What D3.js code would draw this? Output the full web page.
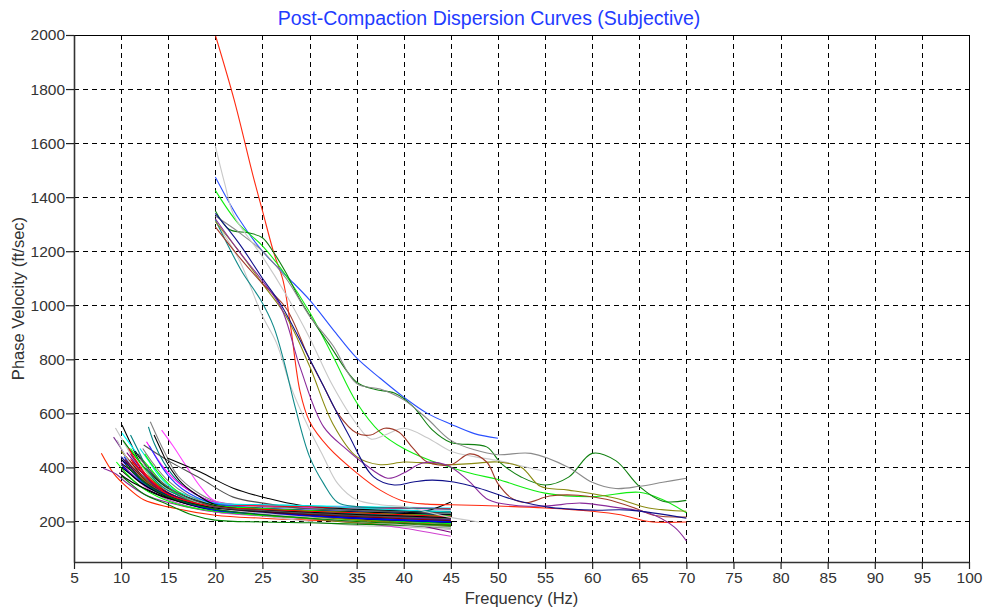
<!DOCTYPE html>
<html><head><meta charset="utf-8">
<script src="https://cdn.jsdelivr.net/npm/d3@7"></script>
<style>body{margin:0;background:#fff;} svg{display:block;}</style>
</head><body><svg id="c" width="987" height="612"></svg>
<script>
const xTicks = [5,10,15,20,25,30,35,40,45,50,55,60,65,70,75,80,85,90,95,100];
const yTicks = [200,400,600,800,1000,1200,1400,1600,1800,2000];

const lowColors = ["#ff2a00","#8a2a9a","#7a3090","#000000","#c0c0c0","#00ffff","#008000","#0000ff",
 "#008080","#808080","#ff00ff","#ff40ff","#505050","#000000","#000000","#808000","#800000","#000080",
 "#00ff00","#ff0000","#808080","#c0c0c0","#008080","#800080","#d040d0","#000000","#0030ff","#808000",
 "#00ff00","#00e0e0","#008000","#ff0000","#000000","#800000","#000080","#2040ff","#c0c0c0","#00ff00",
 "#000000","#000000","#808080","#800000","#808000","#800080","#000080","#00ff00","#008080","#000000",
 "#0000ff","#c0c0c0","#ff0000","#000000","#505050","#008000"];
const lowCurves = [
 [[7.9,452],[9.2,378],[10.6,328],[12.4,280],[15,254],[20,223],[25,212],[30,205],[35,200],[40,195],[45,185]],
 [[8.1,397],[9.5,375],[10.5,345],[12.5,300],[15,270],[20,235],[25,225],[30,218],[35,210],[40,205],[45,200]],
 [[9.2,512],[10,470],[11,410],[12.5,340],[15,290],[20,240],[25,230],[30,222],[35,215],[40,210],[45,205]],
 [[10.1,557],[11,490],[12,420],[13.5,350],[15,305],[17.5,270],[20,252],[25,240],[30,235],[35,232],[40,228],[45,222]],
 [[9.4,546],[10.5,480],[12,390],[14,320],[16,290],[20,248],[25,236],[30,228],[35,222],[40,218],[45,212]],
 [[10.1,527],[11.5,460],[13,390],[15,320],[17.5,285],[20,265],[25,262],[30,258],[35,255],[40,252],[45,250]],
 [[10.2,500],[11.5,440],[13,380],[15,320],[17,280],[20,245],[25,235],[30,228],[35,220],[40,212],[45,205]],
 [[10.1,427],[11,390],[12.5,340],[15,290],[20,245],[25,232],[30,225],[35,218],[40,212],[45,208]],
 [[12.9,550],[13.5,490],[14.5,420],[15.5,370],[17,320],[20,270],[25,258],[30,250],[35,245],[40,240],[45,238]],
 [[13.1,569],[14,500],[15,430],[16,370],[18,310],[20,275],[25,255],[30,248],[35,240],[40,235],[45,230]],
 [[12.7,495],[13.5,450],[14.5,400],[16,345],[18,300],[20,270],[25,258],[30,253],[35,250],[40,248],[45,245]],
 [[14.3,538],[15.5,480],[17,400],[18.5,325],[20,275],[25,260],[30,255],[35,252],[40,250],[45,248]],
 [[12.4,483],[14.9,427],[18.4,360],[21.9,290],[25.1,268],[29,249],[35,240],[40,236],[45,232]],
 [[14.9,435],[18.4,383],[21.9,323],[25.5,286],[29,260],[35,245],[40,240],[45,235]],
 [[10,430],[11,400],[12.5,350],[15,300],[20,255],[25,240],[30,232],[35,228],[40,232],[42.5,240],[45,272]],
 [[10,460],[11,420],[12.5,360],[15,300],[20,250],[25,225],[30,215],[35,205],[40,195],[45,185]],
 [[10.5,440],[11.5,400],[13,340],[15,295],[20,245],[25,230],[30,220],[35,212],[40,205],[45,198]],
 [[10,410],[11,380],[12.5,335],[15,290],[20,240],[25,222],[30,215],[35,210],[40,200],[45,195]],
 [[11,470],[12,420],[13,370],[15,305],[17.5,270],[20,250],[25,238],[30,230],[35,224],[40,218],[45,212]],
 [[10.5,420],[11.5,380],[13,335],[15,290],[20,262],[25,258],[30,255],[35,250],[40,250],[45,247]],
 [[11,400],[12,370],[13.5,330],[15,300],[20,250],[25,225],[30,210],[35,195],[40,185],[45,175]],
 [[11.5,430],[12.5,390],[14,340],[16,300],[20,245],[25,220],[30,200],[35,185],[40,180],[45,170]],
 [[10.5,390],[12,350],[13.5,320],[15,295],[20,250],[25,235],[30,225],[35,215],[40,210],[45,200]],
 [[11,450],[12,400],[13,355],[15,305],[20,255],[25,240],[30,228],[35,215],[40,195],[45,160]],
 [[10,420],[11,380],[12.5,330],[15,280],[20,235],[25,220],[30,210],[35,195],[40,175],[45,145]],
 [[10,390],[11,360],[12.5,320],[15,285],[20,245],[25,230],[30,222],[35,214],[40,205],[45,196]],
 [[10.3,440],[11,410],[12.5,360],[15,300],[20,250],[25,235],[30,225],[35,215],[40,205],[45,190]],
 [[11.5,390],[12.5,360],[14,320],[16,290],[20,248],[25,225],[30,210],[35,195],[40,188],[45,182]],
 [[9.5,420],[10.5,380],[12,330],[14,290],[17,255],[20,238],[25,222],[30,212],[35,205],[40,200],[45,192]],
 [[12,470],[13,420],[14,370],[15.5,320],[18,285],[20,268],[25,262],[30,258],[35,250],[40,242],[45,235]],
 [[10,370],[11,340],[12.5,300],[15,262],[17.5,225],[20,205],[25,198],[30,195],[35,190],[40,186],[45,180]],
 [[10.8,470],[11.5,430],[12.5,380],[14,330],[16,290],[20,250],[25,232],[30,225],[35,220],[40,210],[45,200]],
 [[9.8,380],[10.5,360],[12,330],[14,300],[17,265],[20,245],[25,235],[30,228],[35,225],[40,220],[45,215]],
 [[11.2,420],[12.5,370],[14,320],[16,285],[20,252],[25,240],[30,232],[35,228],[40,222],[45,218]],
 [[11.5,410],[12.5,370],[14,325],[16,290],[20,245],[25,228],[30,218],[35,210],[40,203],[45,196]],
 [[13,480],[14,420],[15,370],[16.5,320],[18,290],[20,265],[25,250],[30,242],[35,236],[40,230],[45,225]],
 [[9.6,500],[10.5,440],[12,370],[14,315],[17,275],[20,250],[25,240],[30,232],[35,226],[40,220],[45,214]],
 [[12,440],[13,400],[14.5,340],[16,300],[20,255],[25,238],[30,228],[35,218],[40,208],[45,200]],
 [[10,415],[11,390],[12.5,345],[15,295],[20,248],[25,236],[30,228],[35,222],[40,218],[45,210]],
 [[13.5,520],[14.3,460],[15,410],[16.5,340],[18,300],[20,262],[25,248],[30,240],[35,235],[40,230],[45,226]],
 [[12.3,470],[13.5,410],[15,350],[17,300],[20,258],[25,245],[30,236],[35,230],[40,225],[45,220]],
 [[10.4,430],[11.5,390],[13,340],[15,300],[20,250],[25,236],[30,226],[35,218],[40,210],[45,203]],
 [[11,400],[12,365],[13.5,325],[15,298],[20,248],[25,230],[30,218],[35,206],[40,195],[45,188]],
 [[10.6,455],[11.5,415],[13,350],[15,300],[20,252],[25,238],[30,230],[35,222],[40,215],[45,208]],
 [[10,440],[11,400],[12.5,345],[15,296],[20,246],[25,232],[30,222],[35,214],[40,206],[45,200]],
 [[12.5,450],[13.5,400],[15,340],[17,290],[20,260],[25,248],[30,240],[35,232],[40,226],[45,220]],
 [[11,520],[12,450],[13,380],[14.5,325],[17,285],[20,255],[25,242],[30,235],[35,228],[40,222],[45,216]],
 [[11.5,460],[12.5,410],[14,350],[16,305],[20,258],[25,242],[30,234],[35,226],[40,220],[45,214]],
 [[10.2,400],[11,375],[12.5,335],[15,292],[20,242],[25,228],[30,220],[35,212],[40,205],[45,198]],
 [[12,430],[13,390],[14.5,340],[16.5,295],[20,250],[25,230],[30,215],[35,200],[40,188],[45,178]],
 [[11,430],[12,390],[13.5,340],[15,300],[20,255],[25,245],[30,238],[35,232],[40,225],[45,218]],
 [[10,400],[10.8,380],[12,345],[14,305],[17,270],[20,250],[25,238],[30,230],[35,224],[40,218],[45,212]],
 [[11.8,450],[12.8,400],[14,355],[16,305],[20,255],[25,240],[30,230],[35,222],[40,216],[45,210]],
 [[10.5,410],[11.5,375],[13,330],[15,292],[20,245],[25,225],[30,212],[35,200],[40,192],[45,186]]
];

const highColors = ["#ff2a10","#2a50ff","#10ee10","#108010","#8a8a8a","#c8c8c8","#c8c8c8","#108a8a",
 "#8a8a10","#a03a2a","#8a2a9a","#10108a"];
const highCurves = [
 [[20,2000],[22,1760],[24,1480],[25,1350],[26.2,1195],[27.2,1090],[28,920],[29,680],[30,570],[32,475],[35,380],[37.5,316],[40,275],[42.5,264],[45,262],[50,257],[55,250],[60,238],[63,225],[66,200],[70,198]],
 [[20,1475],[22.5,1320],[25,1200],[27.5,1110],[30,1020],[32.5,910],[35,805],[37.5,730],[40,660],[42.5,600],[45,560],[47.5,525],[50,508]],
 [[20,1425],[22.5,1300],[25,1220],[27.5,1110],[30,975],[32.5,810],[35,640],[37.5,530],[40,470],[42.5,430],[45,400],[47.5,375],[50,355],[55,305],[60,292],[65,308],[67.5,280],[70,232]],
 [[20,1350],[21.5,1280],[23.5,1268],[25,1250],[26.2,1195],[27.5,1120],[29,1020],[30.8,920],[32,860],[35,715],[37,688],[39,675],[41,625],[43,540],[45,492],[48.8,476],[50.3,416],[52.5,364],[55,335],[57.5,364],[60,452],[62.5,425],[65,330],[67.5,275],[70,278]],
 [[20,1330],[22.5,1270],[25,1200],[27.5,1100],[30,960],[32.5,850],[35,710],[37.5,690],[40,650],[42.5,580],[45,500],[47.5,465],[50,447],[53.5,452],[57.5,400],[60,345],[62.5,322],[65,330],[67.5,345],[70,360]],
 [[20,1590],[21,1450],[22,1330],[25,1180],[27.5,1040],[30,880],[32.5,700],[35,560],[36.5,505],[38,520],[40,545],[42.5,510],[45,460],[47.5,440],[50,425],[52.5,405],[55,385]],
 [[20,1310],[22.5,1170],[25,960],[26.5,860],[28,700],[30,540],[31.5,438],[33,340],[35,280],[37.5,262],[40,255],[42.5,235],[45,215],[48,198]],
 [[20,1316],[21.2,1231],[22.9,1120],[24.8,1020],[26.2,920],[27.3,790],[28.5,620],[30,440],[31.5,340],[33,270],[35,255],[40,250],[45,245]],
 [[20,1310],[22.5,1200],[25,1080],[27.5,960],[30,775],[32.5,560],[35,440],[37.5,410],[40,420],[42.5,416],[45,410],[47.5,415],[50,420],[52.5,400],[54.5,330],[57.5,316],[62.5,286],[66,250],[70,238]],
 [[20,1290],[22.5,1180],[25,1080],[27.5,990],[30,800],[31.5,700],[33,600],[35,527],[36.5,520],[38,545],[39.5,530],[41,470],[42.5,420],[45,410],[47,450],[48.8,420],[50,340],[51.5,285],[53,270],[55.5,294],[58.5,297],[61.5,282],[64.5,250],[66.5,223],[70,216]],
 [[20,1320],[22.5,1200],[25,1090],[27,990],[29,770],[31.5,550],[34,465],[35.7,416],[38.3,360],[40,379],[42,416],[44.5,410],[46.8,353],[49,280],[51.7,260],[55,257],[58.8,268],[62.3,253],[66,231],[68.7,180],[70,128]],
 [[20,1340],[22.5,1230],[25,1100],[27,1000],[30.4,775],[34,530],[36.8,365],[39,335],[41,346],[43,353],[45.3,346],[48,323],[51.7,280],[55.3,253],[60,242],[64,242],[70,212]]
];

const m = {l:74, r:969, t:35, b:562};
const svg = d3.select('#c');
const x = d3.scaleLinear().domain([5,100]).range([m.l, m.r]);
const y = d3.scaleLinear().domain([50,2000]).range([m.b, m.t]);
const font = '"Liberation Sans", Arial, sans-serif';

// grid
const grid = svg.append('g').attr('stroke','#000').attr('stroke-width',1).attr('stroke-dasharray','5,4').attr('shape-rendering','crispEdges');
xTicks.filter(v => v > 5 && v < 100).forEach(v => {
  grid.append('line').attr('x1', Math.round(x(v))+0.5).attr('x2', Math.round(x(v))+0.5).attr('y1', y(50)).attr('y2', y(2000));
});
yTicks.filter(v => v < 2000).forEach(v => {
  grid.append('line').attr('y1', Math.round(y(v))+0.5).attr('y2', Math.round(y(v))+0.5).attr('x1', x(5)).attr('x2', x(100));
});

// curves
svg.append('clipPath').attr('id','pc').append('rect').attr('x', m.l).attr('y', m.t).attr('width', m.r-m.l).attr('height', m.b-m.t);
const line = d3.line().x(d => x(d[0])).y(d => y(d[1])).curve(d3.curveCatmullRom.alpha(0.5));
const cg = svg.append('g').attr('clip-path','url(#pc)').attr('fill','none').attr('stroke-width',1.1);
lowCurves.forEach((c,i) => cg.append('path').attr('d', line(c)).attr('stroke', lowColors[i % lowColors.length]));
highCurves.forEach((c,i) => cg.append('path').attr('d', line(c)).attr('stroke', highColors[i]));

// frame top/right
svg.append('line').attr('x1', m.l).attr('x2', m.r).attr('y1', m.t+0.5).attr('y2', m.t+0.5).attr('stroke','#000').attr('shape-rendering','crispEdges');
svg.append('line').attr('x1', m.r+0.5).attr('x2', m.r+0.5).attr('y1', m.t).attr('y2', m.b).attr('stroke','#000').attr('shape-rendering','crispEdges');

// axes
const xa = svg.append('g').attr('transform', `translate(0,${m.b})`)
  .call(d3.axisBottom(x).tickValues(xTicks).tickSize(7).tickSizeOuter(0).tickPadding(3).tickFormat(d3.format('d')));
const ya = svg.append('g').attr('transform', `translate(${m.l},0)`)
  .call(d3.axisLeft(y).tickValues(yTicks).tickSize(8).tickSizeOuter(0).tickPadding(1).tickFormat(d3.format('d')));
[xa, ya].forEach(a => {
  a.selectAll('.domain').attr('stroke','#333').attr('stroke-width',1.6);
  a.selectAll('.tick line').attr('stroke','#222').attr('stroke-width',1.2);
  a.selectAll('text').attr('font-family', font).attr('font-size', 15.5).attr('fill','#333');
});

// titles
svg.append('text').attr('x', 489).attr('y', 25).attr('text-anchor','middle')
  .attr('font-family', font).attr('font-size', 19.5).attr('fill','#1f3cff')
  .text('Post-Compaction Dispersion Curves (Subjective)');
svg.append('text').attr('x', (m.l+m.r)/2).attr('y', 604).attr('text-anchor','middle')
  .attr('font-family', font).attr('font-size', 16.5).attr('fill','#333').text('Frequency (Hz)');
svg.append('text').attr('transform', `translate(24,${(m.t+m.b)/2}) rotate(-90)`).attr('text-anchor','middle')
  .attr('font-family', font).attr('font-size', 16.5).attr('fill','#333').text('Phase Velocity (ft/sec)');
</script></body></html>
